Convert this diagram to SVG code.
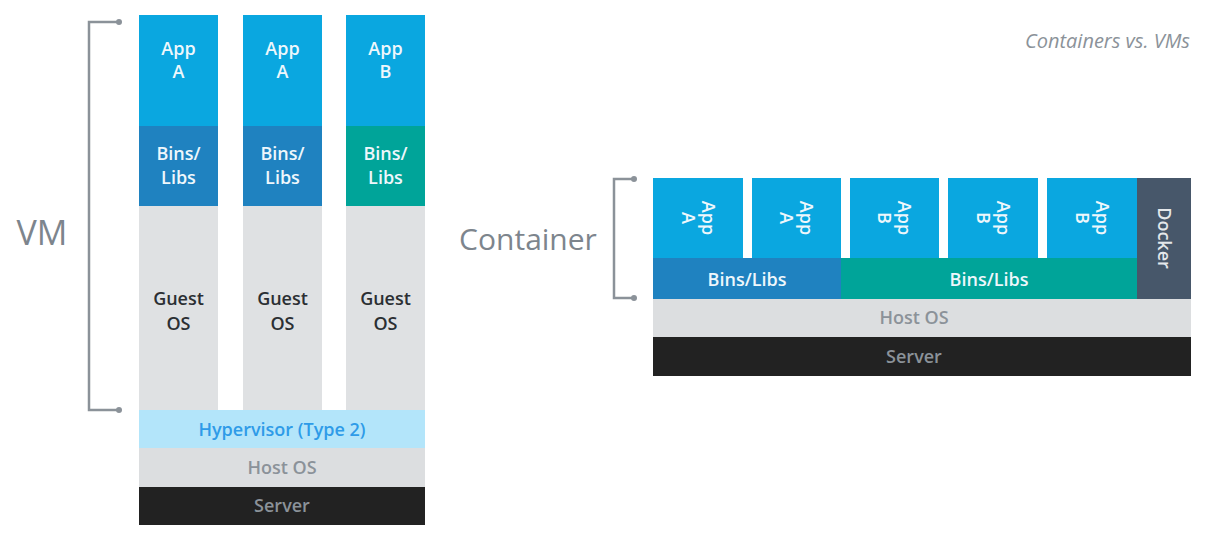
<svg xmlns="http://www.w3.org/2000/svg" width="1208" height="542" viewBox="0 0 1208 542">
<style>
text{font-family:"Open Sans","Liberation Sans",sans-serif;text-anchor:middle;font-weight:600}
.w{fill:#eef7fc;font-size:18px}
.d{fill:#2b2f33;font-size:18px}
.app{fill:#0aa7e0}.bl{fill:#1f82c0}.tl{fill:#00a499}.gs{fill:#dfe1e3}
.g{fill:#8b9299;font-size:18px}
.br{fill:none;stroke:#8b9299;stroke-width:2.5}
.dot{fill:#8b9299}
</style>
<rect width="1208" height="542" fill="#fff"/>
<text x="1190" y="48" style="text-anchor:end;font-style:italic;font-weight:400;font-size:20px;fill:#8b9299">Containers vs. VMs</text>
<g id="vm-label"><text x="42" y="245" style="font-size:34px;font-weight:400;fill:#7d858d">VM</text></g>
<g id="container-label"><text x="528" y="250" style="font-size:30px;font-weight:400;fill:#7d858d">Container</text></g>
<g id="connectors">
<path class="br" d="M119 22H89V410H119"/><circle class="dot" cx="119" cy="22" r="3"/><circle class="dot" cx="119" cy="410" r="3"/>
<path class="br" d="M634 179H614V298H634"/><circle class="dot" cx="634" cy="179" r="3"/><circle class="dot" cx="634" cy="298" r="3"/>
</g>
<g id="vm1"><rect class="app" x="139" y="15" width="79" height="111"/><text class="w" x="178.5" y="55">App</text><text class="w" x="178.5" y="78">A</text>
<rect class="bl" x="139" y="126" width="79" height="80"/><text class="w" x="178.5" y="160">Bins/</text><text class="w" x="178.5" y="184">Libs</text>
<rect class="gs" x="139" y="206" width="79" height="204"/><text class="d" x="178.5" y="305">Guest</text><text class="d" x="178.5" y="330">OS</text></g>
<g id="vm2"><rect class="app" x="243" y="15" width="79" height="111"/><text class="w" x="282.5" y="55">App</text><text class="w" x="282.5" y="78">A</text>
<rect class="bl" x="243" y="126" width="79" height="80"/><text class="w" x="282.5" y="160">Bins/</text><text class="w" x="282.5" y="184">Libs</text>
<rect class="gs" x="243" y="206" width="79" height="204"/><text class="d" x="282.5" y="305">Guest</text><text class="d" x="282.5" y="330">OS</text></g>
<g id="vm3"><rect class="app" x="346" y="15" width="79" height="111"/><text class="w" x="385.5" y="55">App</text><text class="w" x="385.5" y="78">B</text>
<rect class="tl" x="346" y="126" width="79" height="80"/><text class="w" x="385.5" y="160">Bins/</text><text class="w" x="385.5" y="184">Libs</text>
<rect class="gs" x="346" y="206" width="79" height="204"/><text class="d" x="385.5" y="305">Guest</text><text class="d" x="385.5" y="330">OS</text></g>
<g id="hypervisor"><rect x="139" y="410" width="286" height="38" fill="#b3e5fa"/><text x="282" y="436" style="font-size:18px;fill:#2e9be8">Hypervisor (Type 2)</text></g>
<g id="vm-hostos"><rect x="139" y="448" width="286" height="39" fill="#dcdee0"/><text class="g" x="282" y="474">Host OS</text></g>
<g id="vm-server"><rect x="139" y="487" width="286" height="38" fill="#222"/><text class="g" x="282" y="512">Server</text></g>

<g id="c1"><rect class="app" x="653" y="178" width="90" height="80"/><text class="w" transform="translate(698 218) rotate(90)"><tspan x="0" y="-4">App</tspan><tspan x="0" y="16">A</tspan></text></g>
<g id="c2"><rect class="app" x="752" y="178" width="89" height="80"/><text class="w" transform="translate(796 218) rotate(90)"><tspan x="0" y="-4">App</tspan><tspan x="0" y="16">A</tspan></text></g>
<g id="c3"><rect class="app" x="850" y="178" width="89" height="80"/><text class="w" transform="translate(894 218) rotate(90)"><tspan x="0" y="-4">App</tspan><tspan x="0" y="16">B</tspan></text></g>
<g id="c4"><rect class="app" x="948" y="178" width="90" height="80"/><text class="w" transform="translate(993 218) rotate(90)"><tspan x="0" y="-4">App</tspan><tspan x="0" y="16">B</tspan></text></g>
<g id="c5"><rect class="app" x="1047" y="178" width="90" height="80"/><text class="w" transform="translate(1092 218) rotate(90)"><tspan x="0" y="-4">App</tspan><tspan x="0" y="16">B</tspan></text></g>
<g id="docker"><rect x="1137" y="178" width="54" height="121" fill="#47576a"/><text transform="translate(1164 238) rotate(90)" y="6" style="font-size:18px;fill:#e4e7ea">Docker</text></g>
<g id="bins-a"><rect class="bl" x="653" y="258" width="188" height="41"/><text class="w" x="747" y="286">Bins/Libs</text></g>
<g id="bins-b"><rect class="tl" x="841" y="258" width="296" height="41"/><text class="w" x="989" y="286">Bins/Libs</text></g>
<g id="c-hostos"><rect x="653" y="299" width="538" height="38" fill="#dcdee0"/><text class="g" x="914" y="324">Host OS</text></g>
<g id="c-server"><rect x="653" y="337" width="538" height="39" fill="#222"/><text class="g" x="914" y="363">Server</text></g>
</svg>
